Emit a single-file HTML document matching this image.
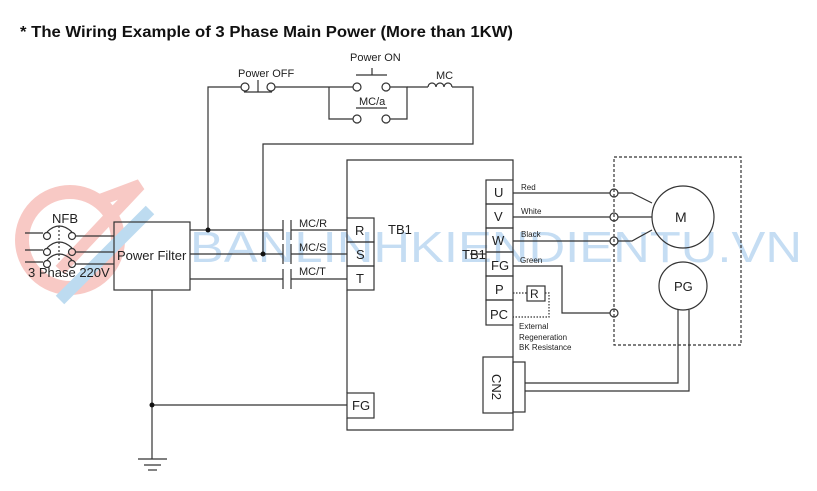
<!DOCTYPE html>
<html><head><meta charset="utf-8"><style>
html,body{margin:0;padding:0;background:#fff;}
svg{display:block;font-family:"Liberation Sans",Arial,sans-serif;}
</style></head><body>
<svg width="817" height="491" viewBox="0 0 817 491" xmlns="http://www.w3.org/2000/svg">
<!-- watermark -->
<g opacity="0.45">
<circle cx="70" cy="240" r="48" fill="none" stroke="#f08a80" stroke-width="14"/>
<path d="M100 200 L140 185 L60 270" stroke="#f08a80" stroke-width="12" fill="none"/>
<path d="M150 210 L60 300" stroke="#6fb0e0" stroke-width="12" fill="none"/>
<text x="190" y="262" font-size="44" fill="#7fb6e6" textLength="612" lengthAdjust="spacingAndGlyphs">BANLINHKIENDIENTU.VN</text>
</g>
<text x="20" y="37" font-size="16" font-weight="bold" fill="#111" textLength="493" lengthAdjust="spacingAndGlyphs">* The Wiring Example of 3 Phase Main Power (More than 1KW)</text>
<g stroke="#333" stroke-width="1.2" fill="none">
<polyline points="208,230 208,87 241,87"/>
<circle cx="245" cy="87" r="4"/><circle cx="271" cy="87" r="4"/>
<line x1="244" y1="92" x2="272" y2="92"/><line x1="258" y1="80" x2="258" y2="92"/>
<polyline points="275,87 329,87"/>
<polyline points="329,87 353,87"/><circle cx="357" cy="87" r="4"/><circle cx="386" cy="87" r="4"/>
<line x1="356" y1="75" x2="387" y2="75"/><line x1="372" y1="68" x2="372" y2="75"/>
<polyline points="390,87 407,87 407,119 390,119"/>
<polyline points="353,119 329,119 329,87"/>
<circle cx="357" cy="119" r="4"/><circle cx="386" cy="119" r="4"/>
<line x1="356" y1="108" x2="387" y2="108"/>
<line x1="407" y1="87" x2="428" y2="87"/>
<path d="M428 87 a4 4 0 0 1 8 0 a4 4 0 0 1 8 0 a4 4 0 0 1 8 0"/>
<polyline points="452,87 473,87 473,144 263,144 263,254"/>
<line x1="25" y1="233" x2="43" y2="233"/><line x1="25" y1="250" x2="43" y2="250"/><line x1="25" y1="262" x2="43" y2="262"/>
<circle cx="47" cy="236" r="3.5"/><circle cx="47" cy="252" r="3.5"/><circle cx="47" cy="264" r="3.5"/>
<circle cx="72" cy="236" r="3.5"/><circle cx="72" cy="252" r="3.5"/><circle cx="72" cy="264" r="3.5"/>
<path d="M47 232 q12 -12 25 0"/><path d="M47 248 q12 -12 25 0"/><path d="M47 260 q12 -12 25 0"/>
<line x1="59" y1="226" x2="59" y2="262" stroke-dasharray="2,2"/>
<line x1="76" y1="236" x2="114" y2="236"/><line x1="76" y1="252" x2="114" y2="252"/><line x1="76" y1="264" x2="114" y2="264"/>
<rect x="114" y="222" width="76" height="68"/>
<line x1="190" y1="230" x2="283" y2="230"/><line x1="291" y1="230" x2="347" y2="230"/>
<line x1="190" y1="254" x2="283" y2="254"/><line x1="291" y1="254" x2="347" y2="254"/>
<line x1="190" y1="279" x2="283" y2="279"/><line x1="291" y1="279" x2="347" y2="279"/>
<line x1="283" y1="220" x2="283" y2="240"/><line x1="291" y1="220" x2="291" y2="240"/>
<line x1="283" y1="244" x2="283" y2="264"/><line x1="291" y1="244" x2="291" y2="264"/>
<line x1="283" y1="269" x2="283" y2="289"/><line x1="291" y1="269" x2="291" y2="289"/>
<polyline points="347,218 347,160 513,160 513,180"/>
<line x1="347" y1="290" x2="347" y2="393"/>
<polyline points="347,418 347,430 513,430 513,413"/>
<line x1="513" y1="325" x2="513" y2="357"/>
<rect x="347" y="218" width="27" height="24"/><rect x="347" y="242" width="27" height="24"/><rect x="347" y="266" width="27" height="24"/>
<rect x="347" y="393" width="27" height="25"/>
<line x1="152" y1="290" x2="152" y2="459"/><line x1="152" y1="405" x2="347" y2="405"/>
<line x1="138" y1="459" x2="167" y2="459"/><line x1="144" y1="465" x2="161" y2="465"/><line x1="148" y1="470" x2="157" y2="470"/>
<rect x="486" y="180" width="27" height="24"/><rect x="486" y="204" width="27" height="24"/><rect x="486" y="228" width="27" height="24"/>
<rect x="486" y="252" width="27" height="24"/><rect x="486" y="276" width="27" height="24"/><rect x="486" y="300" width="27" height="25"/>
<line x1="470" y1="254" x2="486" y2="254"/>
<line x1="513" y1="193" x2="610" y2="193"/><line x1="513" y1="217" x2="610" y2="217"/><line x1="513" y1="241" x2="610" y2="241"/>
<circle cx="614" cy="193" r="4"/><circle cx="614" cy="217" r="4"/><circle cx="614" cy="241" r="4"/><circle cx="614" cy="313" r="4"/>
<polyline points="618,193 632,193 652,203"/><line x1="618" y1="217" x2="652" y2="217"/><polyline points="618,241 632,241 652,230"/>
<polyline points="513,266 562,266 562,313 610,313"/>
<circle cx="683" cy="217" r="31"/>
<circle cx="683" cy="286" r="24"/>
<rect x="614" y="157" width="127" height="188" stroke-dasharray="3,2"/>
<rect x="527" y="286" width="18" height="15"/>
<g stroke-dasharray="1.5,1.5"><line x1="513" y1="293" x2="527" y2="293"/><polyline points="545,293 549,293 549,317 513,317"/></g>
<rect x="483" y="357" width="30" height="56"/><rect x="513" y="362" width="12" height="50"/>
<polyline points="525,383 678,383 678,310"/><polyline points="525,391 689,391 689,310"/>
</g>
<g fill="#111">
<circle cx="208" cy="230" r="2.5"/><circle cx="263" cy="254" r="2.5"/><circle cx="152" cy="405" r="2.5"/>
</g>
<g fill="#222" font-size="11">
<text x="238" y="77">Power OFF</text><text x="350" y="61">Power ON</text><text x="359" y="105">MC/a</text><text x="436" y="79">MC</text>
<text x="299" y="227">MC/R</text><text x="299" y="251">MC/S</text><text x="299" y="275">MC/T</text>
</g>
<g fill="#222" font-size="13">
<text x="52" y="223">NFB</text><text x="28" y="277">3 Phase 220V</text>
<text x="117" y="260">Power Filter</text>
<text x="355" y="235">R</text><text x="356" y="259">S</text><text x="356" y="283">T</text>
<text x="388" y="234">TB1</text><text x="462" y="259">TB1</text>
<text x="352" y="410">FG</text>
<text x="494" y="197">U</text><text x="494" y="221">V</text><text x="492" y="245">W</text><text x="491" y="270">FG</text><text x="495" y="294">P</text><text x="490" y="319">PC</text>
<text x="530" y="298" font-size="12">R</text>
<text x="675" y="222" font-size="14">M</text><text x="674" y="291" font-size="13">PG</text>
<text transform="translate(492,374) rotate(90)" font-size="13">CN2</text>
</g>
<g fill="#222" font-size="8">
<text x="521" y="190">Red</text><text x="521" y="214">White</text><text x="521" y="237">Black</text><text x="520" y="263">Green</text>
<text x="519" y="329">External</text><text x="519" y="340">Regeneration</text><text x="519" y="350">BK Resistance</text>
</g>
</svg>
</body></html>
